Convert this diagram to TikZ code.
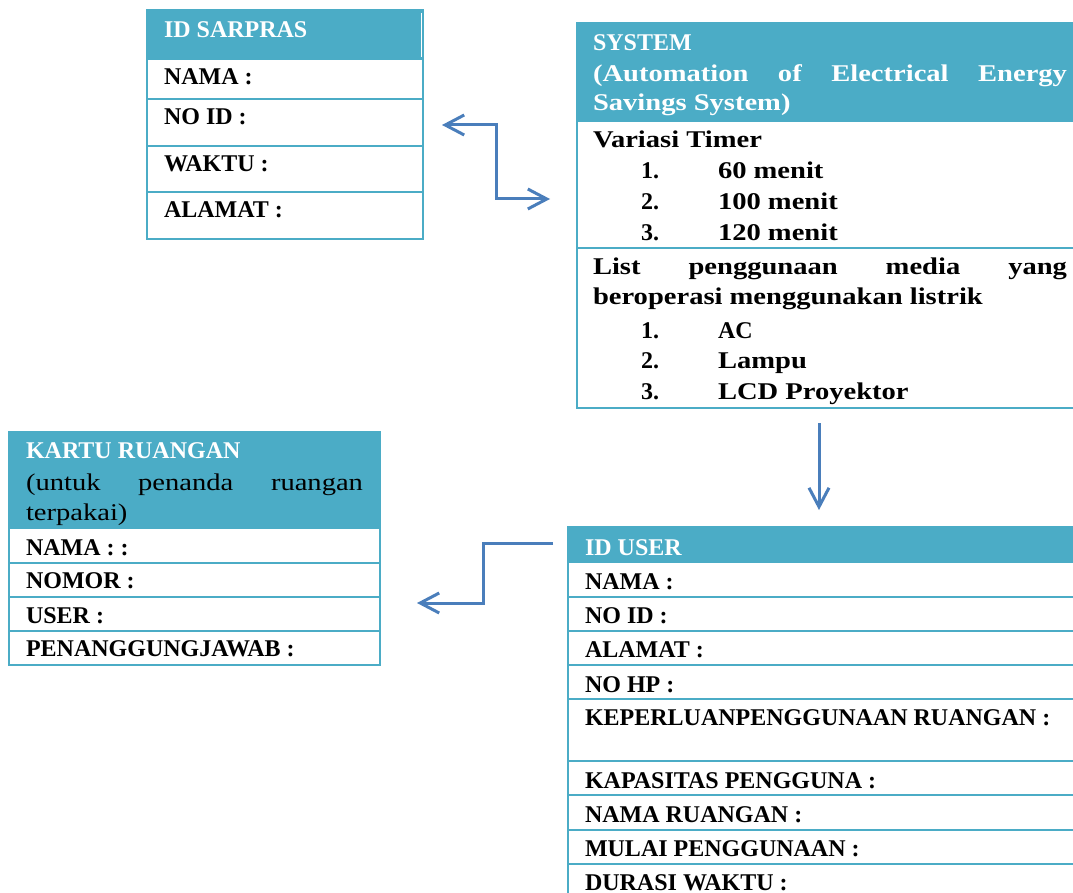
\documentclass[tikz,border=0pt]{standalone}
\usepackage{fontspec}
\setmainfont{Liberation Serif}
\newfontfamily\wide[FakeStretch=1.19]{Liberation Serif}
\usetikzlibrary{arrows.meta,calc}
\definecolor{hdr}{HTML}{4BACC6}
\definecolor{arr}{HTML}{4A7EBB}
\tikzset{
  cell/.style={draw=hdr, line width=2.6pt},
  box/.style={cell, anchor=north west, inner sep=0pt, outer sep=0pt},
  lbl/.style={anchor=base west, inner sep=0pt, outer sep=0pt, font=\bfseries\fontsize{24}{30}\selectfont},
  wlbl/.style={lbl, font=\wide\bfseries\fontsize{24}{30}\selectfont},
  hlbl/.style={lbl, text=white},
  whlbl/.style={wlbl, text=white},
  rlbl/.style={anchor=base west, inner sep=0pt, outer sep=0pt, font=\wide\fontsize{24}{30}\selectfont},
  conn/.style={draw=arr, line width=3pt},
  tip/.style={-{Straight Barb[length=19pt,width=20pt]}},
  tips/.style={{Straight Barb[length=19pt,width=20pt]}-{Straight Barb[length=19pt,width=20pt]}}
}
\begin{document}
\begin{tikzpicture}[x=1pt,y=-1pt]
\useasboundingbox (0,0) rectangle (1073,893);
\clip (0,0) rectangle (1073,893);
\fill[white] (0,0) rectangle (1073,893);

% ---------- ID SARPRAS ----------
\fill[hdr] (147,10) rectangle (422,60);
\draw[white, line width=1pt] (421,13) -- (421,57);
\node[box, minimum width=276pt, minimum height=229pt] (sarpras) at (147,10) {};
\draw[cell] (147,99) -- (423,99);
\draw[cell] (147,146) -- (423,146);
\draw[cell] (147,192) -- (423,192);
\node[hlbl] (sarT) at (164,38) {ID SARPRAS};
\node[lbl] (sar1) at (164,85) {NAMA :};
\node[lbl] (sar2) at (164,125) {NO ID :};
\node[lbl] (sar3) at (164,172) {WAKTU :};
\node[lbl] (sar4) at (164,218) {ALAMAT :};

% ---------- SYSTEM ----------
\fill[hdr] (577,23) rectangle (1100,122);
\node[box, minimum width=523pt, minimum height=385pt] (system) at (577,23) {};
\draw[cell] (577,248) -- (1100,248);
\node[hlbl] (sysT1) at (593,51) {SYSTEM};
\node[whlbl] (sysT2) at (593,82) {\makebox[474pt][s]{(Automation of Electrical Energy}};
\node[whlbl] (sysT3) at (593,111) {Savings System)};
\node[wlbl] (sysV) at (593,148) {Variasi Timer};
\node[lbl] (sysN1) at (641,179) {1.};
\node[wlbl] (sysV1) at (718,179) {60 menit};
\node[lbl] (sysN2) at (641,210) {2.};
\node[wlbl] (sysV2) at (718,210) {100 menit};
\node[lbl] (sysN3) at (641,241) {3.};
\node[wlbl] (sysV3) at (718,241) {120 menit};
\node[wlbl] (sysL1) at (593,275) {\makebox[474pt][s]{List penggunaan media yang}};
\node[wlbl] (sysL2) at (593,305) {beroperasi menggunakan listrik};
\node[lbl] (sysM1) at (641,338) {1.};
\node[lbl] (sysA1) at (718,338) {AC};
\node[lbl] (sysM2) at (641,368) {2.};
\node[wlbl] (sysA2) at (718,368) {Lampu};
\node[lbl] (sysM3) at (641,399) {3.};
\node[wlbl] (sysA3) at (718,399) {LCD Proyektor};

% ---------- ID USER ----------
\fill[hdr] (568,527) rectangle (1100,563);
\node[box, minimum width=532pt, minimum height=400pt] (user) at (568,527) {};
\foreach \yy in {597,631,665,699,761,795,830,864}{
  \draw[cell] (568,\yy) -- (1100,\yy);
}
\node[hlbl] (usrT) at (585,555) {ID USER};
\node[lbl] (usr1) at (585,589) {NAMA :};
\node[lbl] (usr2) at (585,623) {NO ID :};
\node[lbl] (usr3) at (585,657) {ALAMAT :};
\node[lbl] (usr4) at (585,692) {NO HP :};
\node[lbl] (usr5) at (585,725) {KEPERLUANPENGGUNAAN RUANGAN :};
\node[lbl] (usr6) at (585,788) {KAPASITAS PENGGUNA :};
\node[lbl] (usr7) at (585,822) {NAMA RUANGAN :};
\node[lbl] (usr8) at (585,856) {MULAI PENGGUNAAN :};
\node[lbl] (usr9) at (585,890) {DURASI WAKTU :};

% ---------- KARTU RUANGAN ----------
\fill[hdr] (9,432) rectangle (380,529);
\node[box, minimum width=371pt, minimum height=233pt] (kartu) at (9,432) {};
\foreach \yy in {563,597,631}{
  \draw[cell] (9,\yy) -- (380,\yy);
}
\node[hlbl] (krtT) at (26,458) {KARTU RUANGAN};
\node[rlbl] (krtS1) at (26,490) {\makebox[337pt][s]{(untuk penanda ruangan}};
\node[rlbl] (krtS2) at (26,520) {terpakai)};
\node[lbl] (krt1) at (26,555) {NAMA : :};
\node[lbl] (krt2) at (26,588) {NOMOR :};
\node[lbl] (krt3) at (26,623) {USER :};
\node[lbl] (krt4) at (26,656) {PENANGGUNGJAWAB :};

% ---------- connectors ----------
\coordinate (sarEnd) at ($(sarpras.north east)+(19,115)$);
\coordinate (sysEnd) at ($(system.north west)+(-27,176)$);
\draw[conn, tips] (sarEnd) -- ++(54,0) |- (sysEnd);

\coordinate (sysOut) at ($(system.south west)+(242,15)$);
\coordinate (usrIn) at ($(user.north west)+(251,-17)$);
\draw[conn, tip] (sysOut) -- (usrIn);

\coordinate (usrOut) at ($(user.north west)+(-15,16)$);
\coordinate (krtIn) at ($(kartu.north east)+(37,171)$);
\draw[conn, tip] (usrOut) -- ++(-70,0) |- (krtIn);
\end{tikzpicture}
\end{document}
